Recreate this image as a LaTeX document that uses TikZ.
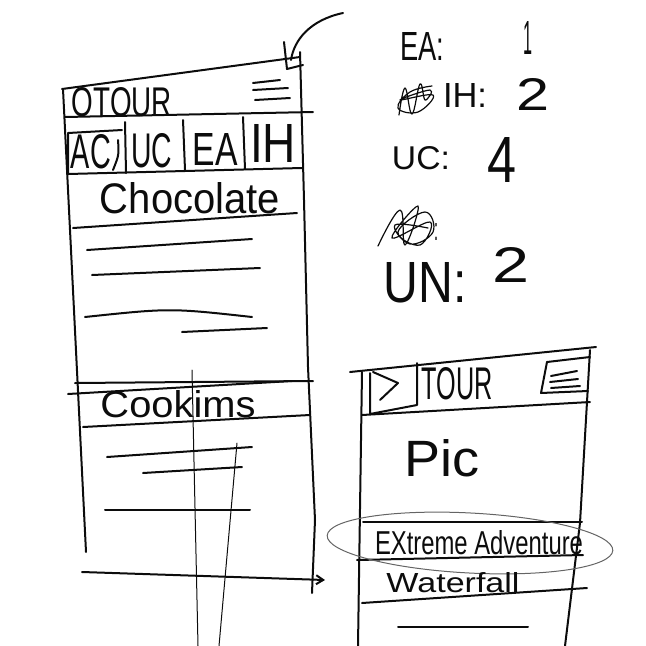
\documentclass[tikz,border=0pt]{standalone}
\usepackage{fontspec}
\usepackage{graphicx}
\newfontfamily\handfont{Liberation Sans}
% 手写文字:按草图中的宽高缩放
\newcommand{\hand}[3]{\resizebox{#1pt}{#2pt}{\handfont #3}}
\usetikzlibrary{calc,shapes,positioning,arrows.meta}

\begin{document}
\begin{tikzpicture}[x=1pt, y=-1pt, line cap=round, line join=round,
    every node/.style={inner sep=0pt, outer sep=0pt, text=ink},
    pen/.style={draw=ink, line width=2pt},
    finepen/.style={draw=ink, line width=1pt},
    scribble/.style={draw=ink, line width=1.2pt}]
    % 墨水颜色
    \definecolor{ink}{RGB}{12,12,12}
    \definecolor{pencil}{RGB}{100,100,100}
    \useasboundingbox (0,0) rectangle (646,646);
    % 左侧手机:外框
    \draw[pen] (62,89) -- (300,57);
    \draw[pen] (63,89) -- (86,552);
    \draw[pen] (300,52) -- (304,200) -- (308,367) -- (315,520) -- (312,593);
    % 标题栏
    \draw[pen] (65,117) -- (313,112);
    \node (otour) at (122,102) {\hand{100}{29}{OTOUR}};
    \draw[pen] (253,83) -- (280,80);
    \draw[pen] (253,90) -- (288,88);
    \draw[pen] (255,100) -- (290,98);
    % 顶部箭头指向菜单
    \coordinate (menuTip) at (287,69);
    \draw[pen] (343,13) .. controls (310,20) and (294,40) .. (291,60);
    \draw[pen] (284,42) -- (menuTip) -- (303,65);
    % 标签栏:AC | UC | EA | IH
    \draw[pen] (68,174) -- (302,168);
    \draw[pen] (68,174) -- (68,133) -- (122,130);
    \draw[pen] (118,140) .. controls (119,155) .. (113,170);
    \draw[pen] (125,122) -- (126,173);
    \draw[pen] (183,120) -- (185,170);
    \draw[pen] (243,117) -- (245,169);
    \node (tabAC) at (91,152) {\hand{40}{34}{AC}};
    \node (tabUC) at (152,151) {\hand{41}{34}{UC}};
    \node (tabEA) at (215,149) {\hand{45}{32}{EA}};
    \node (tabIH) at (273,143) {\hand{46}{38}{IH}};
    % Chocolate 段落
    \node (chocolate) at (190,198) {\hand{180}{31}{Chocolate}};
    \draw[pen] (73,228) -- (297,213);
    \draw[pen] (87,250) -- (252,239);
    \draw[pen] (92,275) -- (260,268);
    \draw[pen] (85,317) .. controls (170,308) .. (252,317);
    \draw[pen] (182,332) -- (267,328);
    \draw[pen] (75,383) -- (313,381);
    \draw[pen] (68,394) -- (292,381);
    % Cookims 段落
    \node (cookims) at (178,404) {\hand{155}{27}{Cookims}};
    \draw[pen] (83,427) -- (310,415);
    \draw[pen] (107,457) -- (252,447);
    \draw[pen] (143,473) -- (242,467);
    \draw[pen] (105,510) -- (250,510);
    % 底部箭头:转到右侧页面
    \draw[pen, -{Straight Barb[length=7pt, width=9pt]}] (82,572) -- (325,580);
    % 滚动细线
    \draw[finepen] (192,370) -- (198,646);
    \draw[finepen] (237,443) -- (219,646);
    % 右上:计数列表
    \node (countEA) at (422,46) {\hand{44}{28}{EA:}};
    \node (numEA) at (528,38) {\hand{9}{33}{1}};
    \draw[scribble] plot[smooth, tension=0.7] coordinates {(399,115) (405,88)
        (412,114) (420,84) (425,100) (430,90) (400,100) (433,95) (418,112)
        (398,108) (410,92) (432,86)};
    \node (countIH) at (465,95) {\hand{44}{24}{IH:}};
    \node (numIH) at (533,94) {\hand{33}{32}{2}};
    \node (countUC) at (421,158) {\hand{58}{23}{UC:}};
    \node (numUC) at (502,160) {\hand{29}{45}{4}};
    \draw[scribble] plot[smooth, tension=0.7] coordinates {(378,246) (400,210)
        (405,245) (418,206) (392,238) (430,222) (420,245) (398,232) (425,212)
        (433,232) (410,244) (395,225) (428,228)};
    \node (countX) at (436,232) {\hand{4}{17}{:}};
    \node (countUN) at (425,283) {\hand{83}{40}{UN:}};
    \node (numUN) at (511,265) {\hand{37}{35}{2}};
    % 右侧手机:外框
    \draw[pen] (350,372) -- (596,347);
    \draw[pen] (362,372) -- (358,646);
    \draw[pen] (590,350) -- (580,523) -- (565,646);
    % 标题栏:返回按钮、TOUR、菜单
    \draw[pen] (362,415) -- (590,402);
    \draw[pen] (370,373) -- (370,414) -- (417,405) -- (417,363);
    \draw[pen] (373,372) -- (398,383) -- (380,400);
    \node (tour) at (457,384) {\hand{71}{32}{TOUR}};
    \draw[pen] (547,362) -- (590,357);
    \draw[pen] (547,362) -- (541,393) -- (588,391);
    \draw[pen] (551,376) -- (577,371);
    \draw[pen] (550,382) -- (578,379);
    \draw[pen] (551,388) -- (580,386);
    % 图片区
    \node (pic) at (442,458) {\hand{75}{37}{Pic}};
    % 列表项
    \draw[pen] (363,522) -- (582,522);
    \node (extreme) at (479,543) {\hand{208}{24}{EXtreme Adventure}};
    \draw[pen] (357,560) -- (583,555);
    \draw[pencil, line width=1pt, rotate around={-3:(470,543)}]
        (470,543) ellipse [x radius=143, y radius=30];
    \node (waterfall) at (453,583) {\hand{133}{20}{Waterfall}};
    \draw[pen] (362,603) -- (587,588);
    \draw[pen] (398,627) -- (528,627);
\end{tikzpicture}
\end{document}
